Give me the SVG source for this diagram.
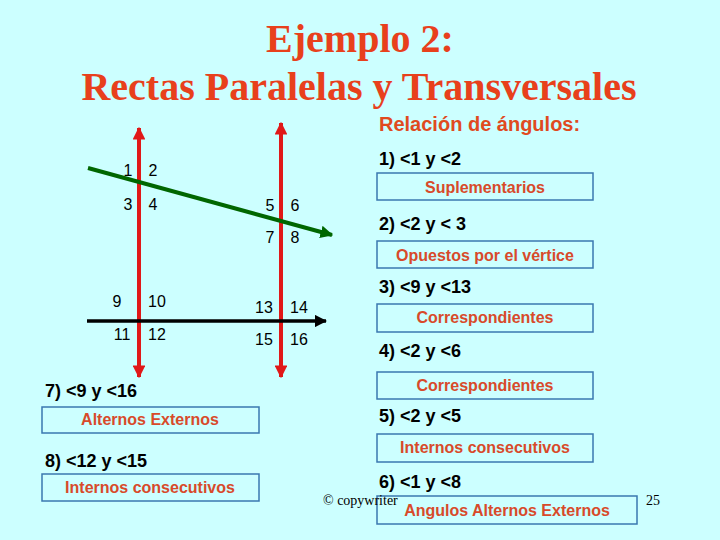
<svg xmlns="http://www.w3.org/2000/svg" width="720" height="540" viewBox="0 0 720 540">
<defs>
<style>
.title{font-family:"Liberation Serif",serif;font-weight:bold;font-size:40px;fill:#e8401c;text-anchor:middle}
.hd{font-family:"Liberation Sans",sans-serif;font-weight:bold;font-size:20px;fill:#e04a1e}
.q{font-family:"Liberation Sans",sans-serif;font-weight:bold;font-size:18px;fill:#000}
.box{fill:none;stroke:#3a78b0;stroke-width:1.5}
.bt{font-family:"Liberation Sans",sans-serif;font-weight:bold;font-size:16px;fill:#d84a2a;text-anchor:middle}
.n{font-family:"Liberation Sans",sans-serif;font-size:16px;fill:#000;text-anchor:middle}
.sm{font-family:"Liberation Serif",serif;font-size:14px;fill:#000}
</style>
<marker id="ar" viewBox="0 0 10 10" refX="9" refY="5" markerWidth="3.2" markerHeight="3.2" orient="auto-start-reverse" markerUnits="strokeWidth"><path d="M0,0L10,5L0,10z" fill="#e01818"/></marker>
<marker id="ag" viewBox="0 0 10 10" refX="9" refY="5" markerWidth="3.2" markerHeight="3.2" orient="auto" markerUnits="strokeWidth"><path d="M0,0L10,5L0,10z" fill="#006600"/></marker>
<marker id="ak" viewBox="0 0 10 10" refX="9" refY="5" markerWidth="3.5" markerHeight="3.5" orient="auto" markerUnits="strokeWidth"><path d="M0,0L10,5L0,10z" fill="#000"/></marker>
</defs>
<rect width="720" height="540" fill="#ccffff"/>
<text class="title" x="360" y="52">Ejemplo 2:</text>
<text class="title" x="359" y="100">Rectas Paralelas y Transversales</text>

<g id="connectors">
<line x1="139" y1="377" x2="139" y2="128" stroke="#e01818" stroke-width="4" marker-start="url(#ar)" marker-end="url(#ar)"/>
<line x1="281" y1="377" x2="281" y2="123" stroke="#e01818" stroke-width="4" marker-start="url(#ar)" marker-end="url(#ar)"/>
<line x1="88" y1="168" x2="332" y2="235" stroke="#006600" stroke-width="4" marker-end="url(#ag)"/>
<line x1="87" y1="321" x2="326" y2="321" stroke="#000" stroke-width="3.5" marker-end="url(#ak)"/>
</g>

<g id="angles">
<text class="n" x="128" y="176">1</text><text class="n" x="153" y="176">2</text>
<text class="n" x="128" y="210">3</text><text class="n" x="153" y="210">4</text>
<text class="n" x="270" y="211">5</text><text class="n" x="295" y="211">6</text>
<text class="n" x="270" y="243">7</text><text class="n" x="295" y="243">8</text>
<text class="n" x="117" y="307">9</text><text class="n" x="157" y="307">10</text>
<text class="n" x="122" y="340">11</text><text class="n" x="157" y="340">12</text>
<text class="n" x="264" y="313">13</text><text class="n" x="299" y="313">14</text>
<text class="n" x="264" y="345">15</text><text class="n" x="299" y="345">16</text>
</g>

<text class="hd" x="379" y="131">Relación de ángulos:</text>

<g id="r1"><text class="q" x="379" y="165">1) &lt;1 y &lt;2</text>
<rect class="box" x="377" y="173" width="216" height="27"/><text class="bt" x="485" y="193">Suplementarios</text></g>
<g id="r2"><text class="q" x="379" y="230">2) &lt;2 y &lt; 3</text>
<rect class="box" x="377" y="241" width="216" height="27"/><text class="bt" x="485" y="261">Opuestos por el vértice</text></g>
<g id="r3"><text class="q" x="379" y="293">3) &lt;9 y &lt;13</text>
<rect class="box" x="377" y="304" width="216" height="28"/><text class="bt" x="485" y="323">Correspondientes</text></g>
<g id="r4"><text class="q" x="379" y="357">4) &lt;2 y &lt;6</text>
<rect class="box" x="377" y="372" width="216" height="27"/><text class="bt" x="485" y="391">Correspondientes</text></g>
<g id="r5"><text class="q" x="379" y="422">5) &lt;2 y &lt;5</text>
<rect class="box" x="377" y="434" width="216" height="28"/><text class="bt" x="485" y="453">Internos consecutivos</text></g>
<g id="r6"><text class="q" x="379" y="488">6) &lt;1 y &lt;8</text>
<rect class="box" x="377" y="496" width="260" height="28"/><text class="bt" x="507" y="516">Angulos Alternos Externos</text></g>
<g id="r7"><text class="q" x="45" y="397">7) &lt;9 y &lt;16</text>
<rect class="box" x="42" y="407" width="217" height="26"/><text class="bt" x="150" y="425">Alternos Externos</text></g>
<g id="r8"><text class="q" x="45" y="467">8) &lt;12 y &lt;15</text>
<rect class="box" x="42" y="474" width="217" height="27"/><text class="bt" x="150" y="493">Internos consecutivos</text></g>

<text class="sm" x="323" y="505">© copywriter</text>
<text class="sm" x="646" y="505">25</text>
</svg>
